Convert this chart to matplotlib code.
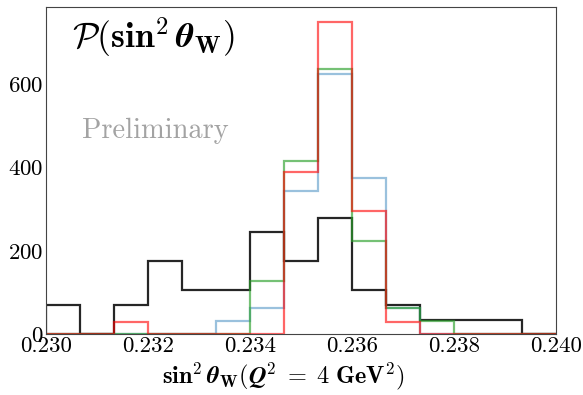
import numpy as np
import matplotlib
matplotlib.use("Agg")
import matplotlib.pyplot as plt

plt.rcParams['font.family'] = 'serif'
plt.rcParams['font.serif'] = ['cmr10']
plt.rcParams['mathtext.fontset'] = 'cm'
plt.rcParams['axes.formatter.use_mathtext'] = True

# 15 equal bins between 0.230 and 0.240
edges = np.linspace(0.230, 0.240, 16)

# bin heights
black = [70, 0, 70, 175, 105, 105, 245, 175, 280, 105, 70, 35, 35, 35, 0]
blue = [0, 0, 0, 0, 0, 31, 62, 344, 625, 375, 62, 0, 0, 0, 0]
green = [0, 0, 0, 0, 0, 0, 128, 415, 638, 223, 64, 32, 0, 0, 0]
red = [0, 0, 30, 0, 0, 0, 0, 390, 750, 295, 30, 0, 0, 0, 0]

xticks = [0.230, 0.232, 0.234, 0.236, 0.238, 0.240]
yticks = [0, 200, 400, 600]

fig = plt.figure(figsize=(5.83, 3.95), dpi=100)
ax = fig.add_axes([0.079, 0.154, 0.875, 0.829])

centers = 0.5 * (edges[1:] + edges[:-1])
ax.hist(centers, bins=edges, weights=black, histtype='step', color='black', lw=1.6, alpha=0.85)
ax.hist(centers, bins=edges, weights=blue, histtype='step', color='tab:blue', lw=1.6, alpha=0.45)
ax.hist(centers, bins=edges, weights=green, histtype='step', color='tab:green', lw=1.6, alpha=0.65)
ax.hist(centers, bins=edges, weights=red, histtype='step', color='red', lw=1.6, alpha=0.6)

ax.set_xlim(0.230, 0.240)
ax.set_ylim(0, 787)
ax.set_xticks(xticks)
ax.set_xticklabels(['%.3f' % t for t in xticks])
ax.set_yticks(yticks)
ax.tick_params(labelsize=16.5, length=0, pad=2)
for s in ax.spines.values():
    s.set_color('#444444')

ax.set_xlabel(r'$\mathbf{sin}^{\mathbf{2}}\,\boldsymbol{\theta}_{\mathbf{W}}\mathbf{(}\boldsymbol{Q}^{\mathbf{2}}\;\mathbf{=}\;\mathbf{4\ GeV}^{\mathbf{2}}\mathbf{)}$',
              fontsize=17.5)
ax.xaxis.set_label_coords(0.465, -0.08)
ax.text(0.05, 0.875, r'$\boldsymbol{\mathcal{P}}\mathbf{(sin}^{\mathbf{2}}\,\boldsymbol{\theta}_{\mathbf{W}}\mathbf{)}$',
        transform=ax.transAxes, fontsize=25.5)
ax.text(0.07, 0.6, 'Preliminary', transform=ax.transAxes, fontsize=20.5, color='#999999', alpha=0.9)

fig.savefig('out.png', dpi=100)
